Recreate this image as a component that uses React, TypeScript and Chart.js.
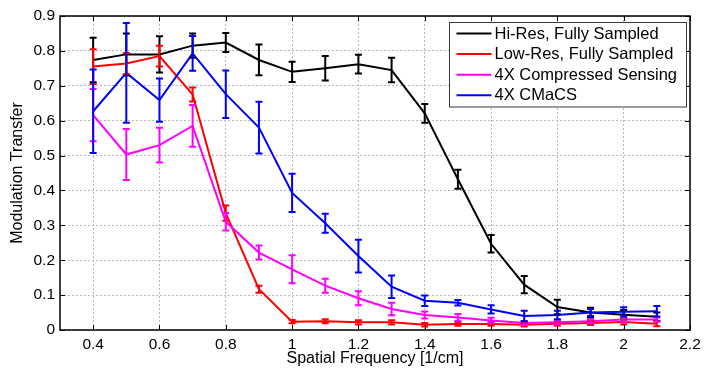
import React, { useEffect, useRef } from 'react';
import { Chart, registerables } from 'chart.js';

Chart.register(...registerables);

// Spatial frequency [1/cm]
const freq = [0.4, 0.5, 0.6, 0.7, 0.8, 0.9, 1.0, 1.1, 1.2, 1.3, 1.4, 1.5, 1.6, 1.7, 1.8, 1.9, 2.0, 2.1];

const hiRes = [0.774, 0.79, 0.79, 0.815, 0.824, 0.774, 0.74, 0.75, 0.762, 0.745, 0.621, 0.432, 0.247, 0.13, 0.066, 0.05, 0.044, 0.038];
const hiResErr = [0.064, 0.06, 0.052, 0.035, 0.027, 0.044, 0.029, 0.035, 0.027, 0.035, 0.027, 0.027, 0.025, 0.025, 0.021, 0.014, 0.013, 0.012];

const lowRes = [0.755, 0.764, 0.785, 0.675, 0.335, 0.117, 0.024, 0.025, 0.022, 0.022, 0.015, 0.017, 0.017, 0.015, 0.018, 0.02, 0.023, 0.018];
const lowResErr = [0.05, 0.03, 0.03, 0.02, 0.022, 0.01, 0.005, 0.006, 0.006, 0.006, 0.005, 0.005, 0.005, 0.005, 0.006, 0.006, 0.007, 0.007];

const cs = [0.616, 0.503, 0.53, 0.585, 0.31, 0.222, 0.174, 0.127, 0.091, 0.06, 0.043, 0.036, 0.027, 0.02, 0.022, 0.025, 0.03, 0.03];
const csErr = [0.075, 0.073, 0.05, 0.06, 0.025, 0.02, 0.04, 0.02, 0.02, 0.018, 0.01, 0.01, 0.008, 0.006, 0.006, 0.006, 0.006, 0.006];

const cmacs = [0.627, 0.737, 0.659, 0.793, 0.676, 0.58, 0.393, 0.306, 0.212, 0.124, 0.084, 0.078, 0.059, 0.04, 0.043, 0.05, 0.052, 0.054];
const cmacsErr = [0.12, 0.143, 0.062, 0.05, 0.068, 0.074, 0.055, 0.027, 0.047, 0.032, 0.015, 0.008, 0.012, 0.015, 0.012, 0.01, 0.013, 0.015];

const seriesNames = ['Hi-Res, Fully Sampled', 'Low-Res, Fully Sampled', '4X Compressed Sensing', '4X CMaCS'];
const seriesColors = ['#000000', '#ff0000', '#ff00ff', '#0000ff'];

const xTickValues = [0.4, 0.6, 0.8, 1.0, 1.2, 1.4, 1.6, 1.8, 2.0, 2.2];
const yTickValues = [0, 0.1, 0.2, 0.3, 0.4, 0.5, 0.6, 0.7, 0.8, 0.9];

const xTitle = 'Spatial Frequency [1/cm]';
const yTitle = 'Modulation Transfer';

const FONT = '"Liberation Sans", Arial, Helvetica, sans-serif';

const fmt = (v: number) => String(parseFloat(Number(v).toFixed(2)));

export default function App() {
  const ref = useRef<HTMLCanvasElement>(null);

  useEffect(() => {
    document.body.style.margin = '0';
    const canvas = ref.current!;
    const series = [hiRes, lowRes, cs, cmacs];
    const errs = [hiResErr, lowResErr, csErr, cmacsErr];

    const errorBarPlugin = {
      id: 'errorBars',
      afterDatasetsDraw(chart: any) {
        const ctx = chart.ctx;
        const xs = chart.scales.x;
        const ys = chart.scales.y;
        ctx.save();
        for (let i = 0; i < series.length; i++) {
          ctx.strokeStyle = seriesColors[i];
          ctx.lineWidth = 2;
          for (let j = 0; j < freq.length; j++) {
            const px = xs.getPixelForValue(freq[j]);
            const y1 = ys.getPixelForValue(series[i][j] + errs[i][j]);
            const y2 = ys.getPixelForValue(series[i][j] - errs[i][j]);
            ctx.beginPath();
            ctx.moveTo(px, y1);
            ctx.lineTo(px, y2);
            ctx.moveTo(px - 3.5, y1);
            ctx.lineTo(px + 3.5, y1);
            ctx.moveTo(px - 3.5, y2);
            ctx.lineTo(px + 3.5, y2);
            ctx.stroke();
          }
        }
        ctx.restore();
      },
    };

    const framePlugin = {
      id: 'frame',
      afterDraw(chart: any) {
        const ctx = chart.ctx;
        const a = chart.chartArea;
        const xs = chart.scales.x;
        const ys = chart.scales.y;
        ctx.save();
        ctx.strokeStyle = '#000';
        ctx.lineWidth = 1;
        ctx.beginPath();
        for (const v of xTickValues) {
          const px = Math.round(xs.getPixelForValue(v)) + 0.5;
          ctx.moveTo(px, a.bottom);
          ctx.lineTo(px, a.bottom - 5);
          ctx.moveTo(px, a.top);
          ctx.lineTo(px, a.top + 5);
        }
        for (const v of yTickValues) {
          const py = Math.round(ys.getPixelForValue(v)) + 0.5;
          ctx.moveTo(a.left, py);
          ctx.lineTo(a.left + 5, py);
          ctx.moveTo(a.right, py);
          ctx.lineTo(a.right - 5, py);
        }
        ctx.stroke();
        ctx.lineWidth = 1.5;
        ctx.strokeRect(a.left, a.top, a.right - a.left, a.bottom - a.top);
        ctx.restore();
      },
    };

    const legendPlugin = {
      id: 'boxLegend',
      afterDraw(chart: any) {
        const ctx = chart.ctx;
        const a = chart.chartArea;
        const boxRight = a.right - 3.5;
        const boxLeft = boxRight - 237;
        const boxTop = a.top + 6.5;
        const rowH = 20.6;
        const boxH = 84.5;
        ctx.save();
        ctx.fillStyle = '#ffffff';
        ctx.fillRect(boxLeft, boxTop, boxRight - boxLeft, boxH);
        ctx.strokeStyle = '#3a3a3a';
        ctx.lineWidth = 1;
        ctx.strokeRect(boxLeft, boxTop, boxRight - boxLeft, boxH);
        ctx.font = `16.5px ${FONT}`;
        ctx.textBaseline = 'middle';
        ctx.textAlign = 'left';
        for (let i = 0; i < seriesNames.length; i++) {
          const cy = boxTop + 11 + i * rowH;
          ctx.strokeStyle = seriesColors[i];
          ctx.lineWidth = 2;
          ctx.beginPath();
          ctx.moveTo(boxLeft + 7, cy);
          ctx.lineTo(boxLeft + 42, cy);
          ctx.stroke();
          ctx.fillStyle = '#000';
          ctx.fillText(seriesNames[i], boxLeft + 45, cy + 0.5);
        }
        ctx.restore();
      },
    };

    const chart = new Chart(canvas, {
      type: 'line',
      data: {
        datasets: series.map((s, i) => ({
          label: seriesNames[i],
          data: freq.map((f, j) => ({ x: f, y: s[j] })),
          borderColor: seriesColors[i],
          backgroundColor: seriesColors[i],
          borderWidth: 2,
          pointRadius: 0,
          tension: 0,
          fill: false,
          order: 4 - i,
        })),
      },
      options: {
        responsive: false,
        animation: false,
        devicePixelRatio: 1,
        layout: { padding: { left: 0, top: 16, right: 24, bottom: 0 } },
        plugins: {
          legend: { display: false },
          tooltip: { enabled: false },
        },
        scales: {
          x: {
            type: 'linear',
            min: 0.3,
            max: 2.2,
            afterBuildTicks: (s: any) => {
              s.ticks = xTickValues.map((v) => ({ value: v }));
            },
            afterFit: (s: any) => {
              s.height = 40;
            },
            ticks: {
              callback: (v: any) => fmt(v),
              font: { family: FONT, size: 15.5 },
              color: '#000',
              padding: 5,
              maxRotation: 0,
              autoSkip: false,
            },
            grid: { color: '#b8b8b8', lineWidth: 1, drawTicks: false },
            border: { display: false, dash: [2, 2] },
            title: {
              display: true,
              text: xTitle,
              font: { family: FONT, size: 16 },
              color: '#000',
              padding: { top: 0, bottom: 1.5 },
            },
          },
          y: {
            type: 'linear',
            min: 0,
            max: 0.9,
            afterBuildTicks: (s: any) => {
              s.ticks = yTickValues.map((v) => ({ value: v }));
            },
            afterFit: (s: any) => {
              s.width = 60;
            },
            ticks: {
              callback: (v: any) => fmt(v),
              font: { family: FONT, size: 15.5 },
              color: '#000',
              padding: 5,
              autoSkip: false,
            },
            grid: { color: '#b8b8b8', lineWidth: 1, drawTicks: false },
            border: { display: false, dash: [2, 2] },
            title: {
              display: true,
              text: yTitle,
              font: { family: FONT, size: 16 },
              color: '#000',
              padding: { top: 8, bottom: 0 },
            },
          },
        },
      },
      plugins: [errorBarPlugin, framePlugin, legendPlugin],
    } as any);

    return () => chart.destroy();
  }, []);

  return (
    <div style={{ width: 714, height: 370, overflow: 'hidden' }}>
      <canvas ref={ref} width={714} height={370} style={{ display: 'block' }} />
    </div>
  );
}
